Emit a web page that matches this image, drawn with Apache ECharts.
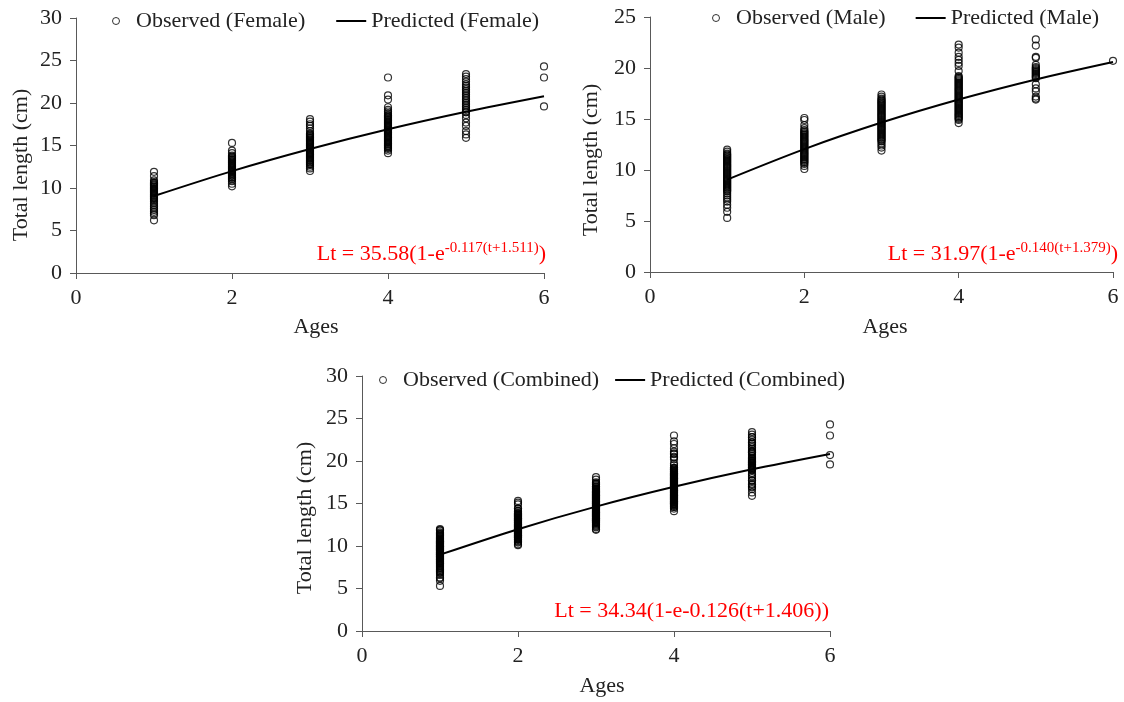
<!DOCTYPE html>
<html>
<head>
<meta charset="utf-8">
<script src="https://cdn.jsdelivr.net/npm/echarts@6/dist/echarts.min.js"></script>
<style>
html,body{margin:0;padding:0;background:#fff;}
#c{width:1124px;height:702px;}
</style>
</head>
<body>
<div id="c"></div>
<script>
// ---- Data ----
const ages = [1, 2, 3, 4, 5, 6];

// Observed total length (cm) per age, Female
const femaleObserved = [
  [11.9, 11.4, 10.9, 10.7, 10.6, 10.5, 10.4, 10.3, 10.2, 10.1, 10.0, 9.9, 9.8, 9.7, 9.6, 9.5, 9.4, 9.3, 9.2, 9.1, 9.0, 8.9, 8.8, 8.7, 8.6, 8.4, 8.2, 8.0, 7.8, 7.6, 7.4, 7.2, 7.0, 6.8, 6.2],
  [15.3, 14.4, 14.1, 13.8, 13.7, 13.6, 13.5, 13.4, 13.3, 13.2, 13.1, 13.0, 12.9, 12.8, 12.7, 12.6, 12.5, 12.4, 12.3, 12.2, 12.1, 12.0, 11.9, 11.8, 11.7, 11.6, 11.5, 11.4, 11.3, 11.2, 11.1, 11.0, 10.8, 10.5, 10.2],
  [18.1, 17.8, 17.5, 17.3, 17.0, 16.7, 16.4, 16.3, 16.2, 16.1, 16.0, 15.9, 15.8, 15.7, 15.6, 15.5, 15.4, 15.3, 15.2, 15.1, 15.0, 14.9, 14.8, 14.7, 14.6, 14.5, 14.4, 14.3, 14.2, 14.1, 14.0, 13.9, 13.8, 13.7, 13.6, 13.5, 13.4, 13.3, 13.2, 13.1, 13.0, 12.9, 12.8, 12.7, 12.5, 12.3, 12.0],
  [23.0, 20.9, 20.4, 19.5, 19.2, 19.0, 18.8, 18.6, 18.5, 18.4, 18.3, 18.2, 18.1, 18.0, 17.9, 17.8, 17.7, 17.6, 17.5, 17.4, 17.3, 17.2, 17.1, 17.0, 16.9, 16.8, 16.7, 16.6, 16.5, 16.4, 16.3, 16.2, 16.1, 16.0, 15.9, 15.8, 15.7, 15.6, 15.5, 15.4, 15.3, 15.2, 15.1, 15.0, 14.9, 14.8, 14.7, 14.6, 14.4, 14.1],
  [23.4, 23.1, 22.8, 22.5, 22.2, 22.0, 21.8, 21.6, 21.4, 21.2, 21.0, 20.8, 20.6, 20.4, 20.2, 20.0, 19.8, 19.6, 19.4, 19.2, 19.0, 18.9, 18.6, 18.2, 17.7, 17.3, 16.7, 16.3, 15.9],
  [24.3, 23.0, 19.6]
];

// Observed total length (cm) per age, Male
const maleObserved = [
  [12.0, 11.8, 11.6, 11.5, 11.4, 11.3, 11.2, 11.1, 11.0, 10.9, 10.8, 10.7, 10.6, 10.5, 10.4, 10.3, 10.2, 10.1, 10.0, 9.9, 9.8, 9.7, 9.6, 9.5, 9.4, 9.3, 9.2, 9.1, 9.0, 8.9, 8.8, 8.7, 8.6, 8.5, 8.4, 8.3, 8.2, 8.1, 8.0, 7.9, 7.7, 7.5, 7.3, 7.1, 6.9, 6.6, 6.3, 5.9, 5.3],
  [15.1, 14.9, 14.4, 14.1, 13.9, 13.8, 13.7, 13.6, 13.5, 13.4, 13.3, 13.2, 13.1, 13.0, 12.9, 12.8, 12.7, 12.6, 12.5, 12.4, 12.3, 12.2, 12.1, 12.0, 11.9, 11.8, 11.7, 11.6, 11.5, 11.4, 11.3, 11.2, 11.1, 11.0, 10.9, 10.8, 10.7, 10.6, 10.4, 10.1],
  [17.4, 17.2, 17.0, 16.9, 16.8, 16.7, 16.6, 16.5, 16.4, 16.3, 16.2, 16.1, 16.0, 15.9, 15.8, 15.7, 15.6, 15.5, 15.4, 15.3, 15.2, 15.1, 15.0, 14.9, 14.8, 14.7, 14.6, 14.5, 14.4, 14.3, 14.2, 14.1, 14.0, 13.9, 13.8, 13.7, 13.6, 13.5, 13.4, 13.3, 13.2, 13.1, 13.0, 12.9, 12.8, 12.6, 12.4, 12.2, 11.9],
  [22.3, 22.0, 21.5, 21.1, 20.8, 20.5, 20.2, 19.7, 19.2, 19.1, 19.0, 18.9, 18.8, 18.7, 18.6, 18.5, 18.4, 18.3, 18.2, 18.1, 18.0, 17.9, 17.8, 17.7, 17.6, 17.5, 17.4, 17.3, 17.2, 17.1, 17.0, 16.9, 16.8, 16.7, 16.6, 16.5, 16.4, 16.3, 16.2, 16.1, 16.0, 15.9, 15.8, 15.7, 15.6, 15.5, 15.4, 15.3, 15.2, 15.1, 15.0, 14.9, 14.6],
  [22.8, 22.2, 21.1, 21.0, 20.3, 20.1, 20.0, 19.9, 19.8, 19.7, 19.6, 19.5, 19.4, 19.3, 19.2, 19.1, 19.0, 18.4, 18.0, 17.7, 17.2, 17.0, 16.9],
  [20.7]
];

// Predicted (von Bertalanffy) lengths at ages 1..6
const femalePredicted = [9.06, 11.99, 14.59, 16.91, 18.97, 20.80];
const malePredicted = [9.06, 12.05, 14.65, 16.91, 18.88, 20.59];
const combinedPredicted = [8.98, 11.98, 14.63, 16.96, 19.02, 20.83];

const xTicks = { min: 0, max: 6, interval: 2 };
const yTicksFemale = { min: 0, max: 30, interval: 5 };
const yTicksMale = { min: 0, max: 25, interval: 5 };
const yTicksCombined = { min: 0, max: 30, interval: 5 };

const legendNames = [
  ['Observed (Female)', 'Predicted (Female)'],
  ['Observed (Male)', 'Predicted (Male)'],
  ['Observed (Combined)', 'Predicted (Combined)']
];

// ---- Build ----
function toPoints(groups) {
  const pts = [];
  groups.forEach((vals, i) => vals.forEach(v => pts.push([ages[i], v])));
  return pts;
}
function linePoints(vals) {
  return vals.map((v, i) => [ages[i], v]);
}
const combinedObserved = ages.map((a, i) => femaleObserved[i].concat(maleObserved[i]));

const FONT = '"Liberation Serif", "Times New Roman", serif';
const TXT = '#222';
const AX = '#595959';

function xAxis(idx) {
  return {
    gridIndex: idx, type: 'value', min: xTicks.min, max: xTicks.max, interval: xTicks.interval,
    axisLine: { show: true, lineStyle: { color: AX, width: 1 } },
    axisTick: { show: true, length: 6, lineStyle: { color: AX } },
    splitLine: { show: false },
    axisLabel: { fontFamily: FONT, fontSize: 22, color: TXT, margin: 14 }
  };
}
function yAxis(idx, t) {
  return {
    gridIndex: idx, type: 'value', min: t.min, max: t.max, interval: t.interval,
    axisLine: { show: true, lineStyle: { color: AX, width: 1 } },
    axisTick: { show: true, length: 6, lineStyle: { color: AX } },
    splitLine: { show: false },
    axisLabel: { fontFamily: FONT, fontSize: 22, color: TXT, margin: 14 }
  };
}
const scatterStyle = { color: 'rgba(255,255,255,0)', borderColor: '#000', borderWidth: 1.2 };

function scatter(name, idx, data) {
  return {
    name, type: 'scatter', xAxisIndex: idx, yAxisIndex: idx, data,
    symbol: 'circle', symbolSize: 7, itemStyle: scatterStyle, clip: false, z: 2
  };
}
function line(name, idx, data) {
  return {
    name, type: 'line', xAxisIndex: idx, yAxisIndex: idx, data,
    smooth: 0.3, symbol: 'none', showSymbol: false,
    lineStyle: { color: '#000', width: 2 }, itemStyle: { color: '#000' }, z: 3
  };
}
function legend(idx, left, top, gap) {
  return {
    left, top, itemGap: gap, itemWidth: 30, itemHeight: 7, padding: 0,
    textStyle: { fontFamily: FONT, fontSize: 22, color: TXT },
    data: [
      { name: legendNames[idx][0], icon: 'circle', itemStyle: { color: 'rgba(255,255,255,0)', borderColor: '#000', borderWidth: 1 } },
      { name: legendNames[idx][1], icon: 'path://M0,0 L30,0 L30,2 L0,2 Z', itemStyle: { color: '#000', borderWidth: 0 } }
    ]
  };
}
function textEl(text, x, y, rot) {
  return {
    type: 'text', x, y, rotation: rot || 0,
    style: { text, font: '22px ' + FONT, fill: TXT, align: 'center', verticalAlign: 'middle' }
  };
}
function eqEl(main, sup, x, y) {
  return {
    type: 'text', x, y,
    style: {
      text: '{m|' + main + '}{s|' + sup + '}{m|)}',
      align: 'right', verticalAlign: 'middle',
      rich: {
        m: { fontFamily: FONT, fontSize: 22, fill: '#ff0000', color: '#ff0000', verticalAlign: 'bottom', lineHeight: 24 },
        s: { fontFamily: FONT, fontSize: 15, fill: '#ff0000', color: '#ff0000', verticalAlign: 'top', lineHeight: 24 }
      }
    }
  };
}

const option = {
  backgroundColor: '#fff',
  animation: false,
  grid: [
    { left: 76, top: 18, width: 468, height: 255 },
    { left: 650, top: 17, width: 463, height: 255 },
    { left: 362, top: 376, width: 468, height: 255 }
  ],
  xAxis: [xAxis(0), xAxis(1), xAxis(2)],
  yAxis: [yAxis(0, yTicksFemale), yAxis(1, yTicksMale), yAxis(2, yTicksCombined)],
  legend: [legend(0, 112, 10, 31), legend(1, 712, 7, 30), legend(2, 379, 369, 16)],
  series: [
    scatter(legendNames[0][0], 0, toPoints(femaleObserved)),
    line(legendNames[0][1], 0, linePoints(femalePredicted)),
    scatter(legendNames[1][0], 1, toPoints(maleObserved)),
    line(legendNames[1][1], 1, linePoints(malePredicted)),
    scatter(legendNames[2][0], 2, toPoints(combinedObserved)),
    line(legendNames[2][1], 2, linePoints(combinedPredicted))
  ],
  graphic: [
    textEl('Total length (cm)', 21, 165, Math.PI / 2),
    textEl('Total length (cm)', 591, 160, Math.PI / 2),
    textEl('Total length (cm)', 305, 518, Math.PI / 2),
    textEl('Ages', 316, 327),
    textEl('Ages', 885, 327),
    textEl('Ages', 602, 686),
    eqEl('Lt = 35.58(1-e', '-0.117(t+1.511)', 546, 253),
    eqEl('Lt = 31.97(1-e', '-0.140(t+1.379)', 1118, 253),
    {
      type: 'text', x: 829, y: 611,
      style: { text: 'Lt = 34.34(1-e-0.126(t+1.406))', font: '22px ' + FONT, fill: '#ff0000', align: 'right', verticalAlign: 'middle' }
    }
  ]
};

const chart = echarts.init(document.getElementById('c'), null, { renderer: 'canvas' });
chart.setOption(option);
</script>
</body>
</html>
